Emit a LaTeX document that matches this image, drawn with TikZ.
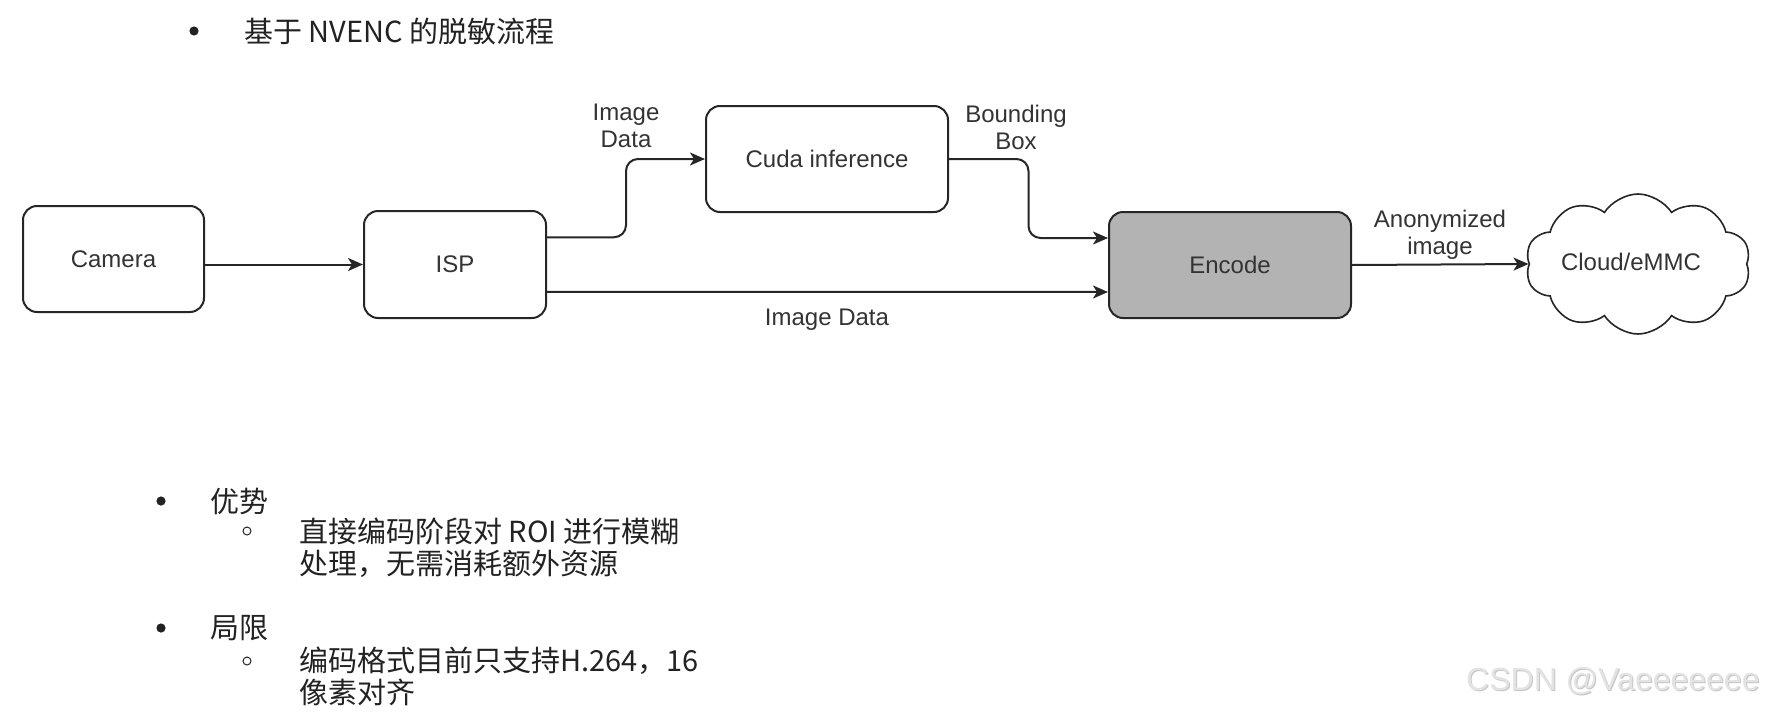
\documentclass[tikz,border=0pt]{standalone}
\usepackage{fontspec}
\setmainfont{Liberation Sans}
\newfontfamily\cjk{Noto Sans CJK SC}
\usetikzlibrary{arrows.meta,shapes.symbols,calc}
\definecolor{txt}{HTML}{333333}
\definecolor{zhtxt}{HTML}{222222}
\definecolor{encfill}{HTML}{B3B3B3}
\begin{document}
\begin{tikzpicture}[x=0.5pt,y=-0.5pt,
  box/.style={draw=black!85, line width=1pt, rounded corners=7pt, fill=white, text=txt,
    font=\fontsize{12pt}{13.5pt}\selectfont, inner sep=0pt},
  conn/.style={line width=1pt, draw=black!85, rounded corners=6pt,
    -{Stealth[length=7.5pt,width=6.5pt,inset=2pt]}},
  lbl/.style={text=txt, font=\fontsize{12pt}{13.5pt}\selectfont, align=center, inner sep=0pt},
  zh/.style={font=\cjk\fontsize{14.5pt}{16pt}\selectfont, text=zhtxt, anchor=west, inner sep=0pt, align=left},
  bigdot/.style={fill=zhtxt},
  smallcirc/.style={draw=zhtxt, line width=0.5pt}
]
\useasboundingbox (0,0) rectangle (1766,712);

% title
\fill[bigdot] (194,31) circle[radius=2.3pt];
\node[zh] (title) at (244,31) {基于 NVENC 的脱敏流程};

% diagram
\node[box, minimum width=90.5pt, minimum height=53pt] (cam) at (113.5,259) {Camera};
\node[box, minimum width=91pt, minimum height=53.5pt] (isp) at (455,264.5) {ISP};
\node[box, minimum width=121pt, minimum height=53pt] (cuda) at (827,159) {Cuda inference};
\node[box, fill=encfill, minimum width=121pt, minimum height=53pt] (enc) at (1230,265) {Encode};
\node[cloud, cloud puffs=10, cloud puff arc=115, draw=black!85, line width=0.8pt, fill=white,
      minimum width=112.5pt, minimum height=70pt, inner sep=0pt] (cloud) at (1638,264) {};
\node[lbl] (cloudtxt) at (1631,262) {Cloud/eMMC};

\coordinate (ispA) at ($(isp.north east)!0.25!(isp.south east)$);
\coordinate (ispB) at ($(isp.north east)!0.75!(isp.south east)$);
\coordinate (encA) at ($(enc.north west)!0.25!(enc.south west)$);
\coordinate (encB) at ($(enc.north west)!0.75!(enc.south west)$);
\coordinate (midL) at ($(isp.east)!0.5!(cuda.west)$);
\coordinate (midR) at ($(cuda.east)!0.5!(enc.west)$);

\draw[conn] (cam.east |- isp.west) -- (isp.west);
\draw[conn] (ispA) -- (midL |- ispA) -- (midL |- cuda.west) -- (cuda.west);
\draw[conn] (cuda.east) -- (midR |- cuda.east) -- (midR |- encA) -- (encA);
\draw[conn] (ispB) -- (encB);
\draw[conn] (enc.east) -- (cloud.west);

\node[lbl] (l1) at (626,126) {Image\\Data};
\node[lbl] (l2) at (1016,127) {Bounding\\Box};
\node[lbl] (l3) at (827,320) {Image Data};
\node[lbl] (l4) at (1440,235) {Anonymized\\image};

% bullets
\fill[bigdot] (161,501) circle[radius=2.3pt];
\node[zh] (adv) at (210,501) {优势};
\draw[smallcirc] (247,531) circle[radius=2pt];
\node[zh] (adv1) at (299,547.5) {直接编码阶段对 ROI 进行模糊\\处理，无需消耗额外资源};

\fill[bigdot] (161,628) circle[radius=2.3pt];
\node[zh] (lim) at (210,628) {局限};
\draw[smallcirc] (247,661) circle[radius=2pt];
\node[zh] (lim1) at (299,676) {编码格式目前只支持H.264，16\\像素对齐};

% watermark
\node[anchor=east, inner sep=0pt, text=gray!45, font=\fontsize{16pt}{18pt}\selectfont] (wm0) at (1761,682) {CSDN @Vaeeeeeee};
\node[anchor=east, inner sep=0pt, text=gray!22, font=\fontsize{16pt}{18pt}\selectfont] (wm) at (1760,681) {CSDN @Vaeeeeeee};
\end{tikzpicture}
\end{document}
